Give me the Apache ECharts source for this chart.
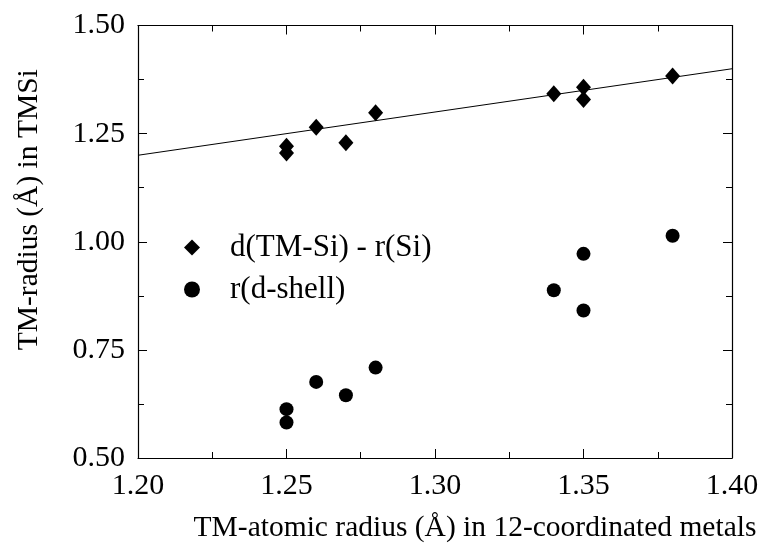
<!DOCTYPE html>
<html>
<head>
<meta charset="utf-8">
<script src="https://cdn.jsdelivr.net/npm/echarts@6/dist/echarts.min.js"></script>
<style>html,body{margin:0;padding:0;background:#fff}#c{width:760px;height:544px}</style>
</head>
<body>
<div id="c"></div>
<script>
// d(TM-Si) - r(Si)
const diamondX = [1.25, 1.25, 1.26, 1.27, 1.28, 1.34, 1.35, 1.35, 1.38];
const diamondY = [1.221, 1.205, 1.265, 1.229, 1.298, 1.342, 1.357, 1.329, 1.383];
// r(d-shell)
const circleX = [1.25, 1.25, 1.26, 1.27, 1.28, 1.34, 1.35, 1.35, 1.38];
const circleY = [0.613, 0.582, 0.676, 0.645, 0.709, 0.888, 0.972, 0.841, 1.014];
// reference line y = x
const lineX = [1.20, 1.40];
const lineY = [1.20, 1.40];

const seriesNames = ['d(TM-Si) - r(Si)', 'r(d-shell)'];
const xName = 'TM-atomic radius (Å) in 12-coordinated metals';
const yName = 'TM-radius (Å) in TMSi';

const FONT = "'Liberation Serif', 'DejaVu Serif', serif";
const FS_TICK = 30;
const FS_NAME = 29.5;
const FS_LEG = 31;
const pair = (xs, ys) => xs.map((x, i) => [x, ys[i]]);

const tickCommon = {
  axisLine: { show: true, onZero: false, lineStyle: { color: '#000', width: 1.2 } },
  axisTick: { show: true, inside: true, length: 9, lineStyle: { color: '#000', width: 1 } },
  minorTick: { show: true, splitNumber: 2, length: 6, lineStyle: { color: '#000', width: 1 } },
  splitLine: { show: false },
  minorSplitLine: { show: false }
};

const chart = echarts.init(document.getElementById('c'), null, { renderer: 'canvas' });
chart.setOption({
  animation: false,
  backgroundColor: '#fff',
  textStyle: { fontFamily: FONT },
  grid: { left: 138, right: 28, top: 25.5, bottom: 86, containLabel: false, outerBoundsMode: 'none' },
  legend: {
    orient: 'vertical',
    left: 179, top: 227,
    itemWidth: 16, itemHeight: 16, itemGap: 11,
    data: [
      { name: seriesNames[0], icon: 'diamond' },
      { name: seriesNames[1], icon: 'circle' }
    ],
    textStyle: { fontFamily: FONT, fontSize: FS_LEG, color: '#000', padding: [0, 0, 0, 25] }
  },
  xAxis: [
    Object.assign({
      type: 'value', min: 1.2, max: 1.4, interval: 0.05, position: 'bottom',
      name: xName, nameLocation: 'middle', nameGap: 55,
      nameTextStyle: { fontFamily: FONT, fontSize: FS_NAME, color: '#000', padding: [0, 0, 0, 80] },
      axisLabel: { fontFamily: FONT, fontSize: FS_TICK, color: '#000', margin: 13, formatter: v => v.toFixed(2) }
    }, tickCommon),
    Object.assign({
      type: 'value', min: 1.2, max: 1.4, interval: 0.05, position: 'top',
      axisLabel: { show: false }
    }, tickCommon)
  ],
  yAxis: [
    Object.assign({
      type: 'value', min: 0.5, max: 1.5, interval: 0.25, position: 'left',
      name: yName, nameLocation: 'middle', nameGap: 94,
      nameTextStyle: { fontFamily: FONT, fontSize: FS_NAME, color: '#000', padding: [0, 0, 0, 64] },
      axisLabel: { fontFamily: FONT, fontSize: FS_TICK, color: '#000', margin: 13, formatter: v => v.toFixed(2) }
    }, tickCommon),
    Object.assign({
      type: 'value', min: 0.5, max: 1.5, interval: 0.25, position: 'right',
      axisLabel: { show: false }
    }, tickCommon)
  ],
  series: [
    {
      name: 'fit', type: 'line', data: pair(lineX, lineY), showSymbol: false, symbol: 'none',
      lineStyle: { color: '#000', width: 1 }, silent: true, z: 1
    },
    {
      name: seriesNames[0], type: 'scatter', data: pair(diamondX, diamondY),
      symbol: 'diamond', symbolSize: [15, 17], itemStyle: { color: '#000', opacity: 1 }, z: 3
    },
    {
      name: seriesNames[1], type: 'scatter', data: pair(circleX, circleY),
      symbol: 'circle', symbolSize: 14, itemStyle: { color: '#000', opacity: 1 }, z: 3
    }
  ]
});
</script>
</body>
</html>
